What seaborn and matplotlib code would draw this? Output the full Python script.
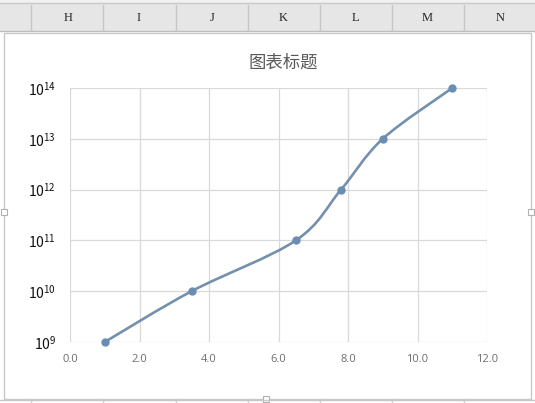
import numpy as np
import matplotlib
matplotlib.use("Agg")
import matplotlib.pyplot as plt
from matplotlib.path import Path
from matplotlib.patches import PathPatch, Rectangle
import seaborn as sns
import pandas as pd

# ---- data ----
x_values = [1.0, 3.5, 6.5, 7.8, 9.0, 11.0]
y_values = [1e9, 1e10, 1e11, 1e12, 1e13, 1e14]
x_ticks = [0, 2, 4, 6, 8, 10, 12]
y_ticks = [1e9, 1e10, 1e11, 1e12, 1e13, 1e14]
title_text = "图表标题"
column_letters = ["H", "I", "J", "K", "L", "M", "N"]

sns.set_style("white")
plt.rcParams['font.family'] = ['Noto Sans CJK SC', 'DejaVu Sans']
plt.rcParams['mathtext.fontset'] = 'custom'
plt.rcParams['mathtext.rm'] = 'Open Sans'

W, H = 535, 403
fig = plt.figure(figsize=(W / 100, H / 100), dpi=100)
fig.patch.set_facecolor("white")

# ---- spreadsheet backdrop (pixel coordinates) ----
bg = fig.add_axes([0, 0, 1, 1], zorder=0)
bg.set_xlim(0, W)
bg.set_ylim(H, 0)
bg.axis("off")
bg.add_patch(Rectangle((0, 0), W, 3, facecolor="#f2f2f2", edgecolor="none"))
bg.add_patch(Rectangle((0, 3), W, 28, facecolor="#e6e6e6", edgecolor="none"))
bg.plot([0, W], [3, 3], color="#c8c8c8", lw=1)
bg.plot([0, W], [31, 31], color="#bdbdbd", lw=1)
seps = [31, 103, 176, 248, 320, 392, 464]
for s in seps:
    bg.plot([s, s], [5, 31], color="#c6c6c6", lw=1)
    bg.plot([s, s], [399, H], color="#d0d0d0", lw=1)
centers = [68, 139, 212, 283, 355, 427, 500]
for c, letter in zip(centers, column_letters):
    bg.text(c, 18, letter, ha="center", va="center", fontsize=9,
            family=["Liberation Serif", "DejaVu Serif"], color="#222222")
bg.plot([0, W], [400, 400], color="#c8c8c8", lw=1)
# chart area frame
bg.add_patch(Rectangle((4, 33), 527, 366, facecolor="white", edgecolor="#c9c9c9", lw=1))
for (hx, hy) in [(4, 212), (531, 212), (266, 399)]:
    bg.add_patch(Rectangle((hx - 3, hy - 3), 6, 6, facecolor="white", edgecolor="#b0b0b0", lw=0.8))

# ---- the chart ----
ax = fig.add_axes([70 / W, 1 - 342 / H, 417 / W, 254 / H], zorder=2)
ax.set_facecolor("none")
ax.set_yscale("log")

df = pd.DataFrame({"x": x_values, "y": y_values})

# smooth (Excel-style) curve through the points, computed in (x, log y) space
px = np.array(x_values, dtype=float)
py = np.log10(np.array(y_values, dtype=float))
n = len(px)
verts = [(px[0], 10 ** py[0])]
codes = [Path.MOVETO]
for i in range(n - 1):
    i0 = max(i - 1, 0)
    i3 = min(i + 2, n - 1)
    c1x = px[i] + (px[i + 1] - px[i0]) / 6
    c1y = py[i] + (py[i + 1] - py[i0]) / 6
    c2x = px[i + 1] - (px[i3] - px[i]) / 6
    c2y = py[i + 1] - (py[i3] - py[i]) / 6
    verts += [(c1x, 10 ** c1y), (c2x, 10 ** c2y), (px[i + 1], 10 ** py[i + 1])]
    codes += [Path.CURVE4] * 3
curve = PathPatch(Path(verts, codes), facecolor="none",
                  edgecolor="#7490ae", lw=1.9, zorder=3, capstyle="round")
curve.set_clip_on(False)
ax.add_patch(curve)

sns.scatterplot(data=df, x="x", y="y", ax=ax, color="#6a8db2", s=36,
                edgecolor="#6a8db2", linewidth=0, zorder=4)
for coll in ax.collections:
    coll.set_clip_on(False)

ax.set_xlim(0, 12)
ax.set_ylim(1e9, 1e14)
ax.set_xticks(x_ticks)
ax.set_xticklabels([f"{t:.1f}" for t in x_ticks], color="#6d6d6d", fontsize=8,
                   family=["Open Sans", "DejaVu Sans"])
ax.set_yticks(y_ticks)
ax.set_yticklabels([f"$\\mathregular{{10^{{{int(np.log10(t))}}}}}$" for t in y_ticks],
                   color="#111111", fontsize=10)
ax.minorticks_off()
ax.tick_params(axis="both", length=0)
ax.tick_params(axis="x", pad=9)
ax.tick_params(axis="y", pad=10)
ax.grid(True, which="major", color="#d9d9d9", lw=0.9)
for sp in ax.spines.values():
    sp.set_visible(False)
ax.set_xlabel("")
ax.set_ylabel("")

fig.text(283 / W, 1 - 63 / H, title_text, ha="center", va="center",
         fontsize=12.5, color="#595959", family=["Noto Sans CJK SC", "DejaVu Sans"])

fig.savefig("out.png", dpi=100)
